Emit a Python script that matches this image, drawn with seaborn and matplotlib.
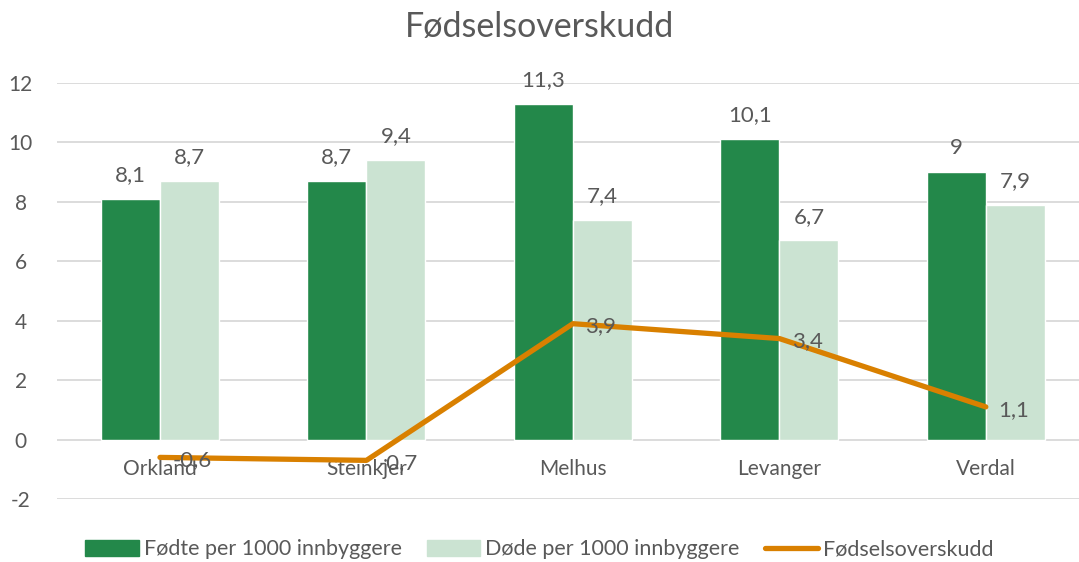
import numpy as np
import pandas as pd
import matplotlib
matplotlib.use("Agg")
import matplotlib.pyplot as plt
import seaborn as sns
from matplotlib.patches import Patch
from matplotlib.lines import Line2D

kommuner = ["Orkland", "Steinkjer", "Melhus", "Levanger", "Verdal"]
fodte = [8.1, 8.7, 11.3, 10.1, 9.0]
dode = [8.7, 9.4, 7.4, 6.7, 7.9]
overskudd = [-0.6, -0.7, 3.9, 3.4, 1.1]

serie_fodte = "Fødte per 1000 innbyggere"
serie_dode = "Døde per 1000 innbyggere"
serie_linje = "Fødselsoverskudd"

c_dark = "#23884A"
c_light = "#CBE3D2"
c_orange = "#D98000"
c_text = "#595959"
c_grid = "#D9D9D9"

sns.set_theme(style="white")
plt.rcParams["font.family"] = ["Lato", "DejaVu Sans"]
plt.rcParams["axes.unicode_minus"] = False

df = pd.DataFrame({
    "kommune": kommuner * 2,
    "verdi": fodte + dode,
    "serie": [serie_fodte] * 5 + [serie_dode] * 5,
})

def fmt(v):
    # norsk desimalkomma, heltall uten desimal
    if float(v).is_integer():
        return str(int(v))
    return f"{v:.1f}".replace(".", ",")

fig = plt.figure(figsize=(10.79, 5.62), dpi=100)
ax = fig.add_axes([0.0526, 0.1121, 0.9567, 0.7402])

sns.barplot(data=df, x="kommune", y="verdi", hue="serie",
            palette=[c_dark, c_light], width=0.572, gap=0,
            saturation=1, legend=False, ax=ax, zorder=2)
sns.lineplot(x=np.arange(len(kommuner)), y=overskudd, color=c_orange,
             linewidth=3.8, ax=ax, zorder=3, legend=False)

ax.set_ylim(-2, 12)
ax.set_xlim(-0.5, 4.5)
ax.set_yticks(range(-2, 13, 2))
ax.yaxis.grid(True, color=c_grid, linewidth=1.3, zorder=0)
ax.set_axisbelow(True)
for s in ax.spines.values():
    s.set_visible(False)
ax.set_xlabel("")
ax.set_ylabel("")
ax.tick_params(axis="both", length=0, labelsize=15, colors=c_text)
# x-etiketter rett under nullinjen
ax.tick_params(axis="x", pad=-29)
ax.tick_params(axis="y", pad=26)
for lab in ax.get_yticklabels():
    lab.set_horizontalalignment("center")
ax.set_xticks(range(len(kommuner)))
ax.set_xticklabels(kommuner)

for container in ax.containers:
    ax.bar_label(container, labels=[fmt(b.get_height()) for b in container],
                 padding=10, fontsize=16, color=c_text)

for i, v in enumerate(overskudd):
    ax.annotate(fmt(v), (i, v), xytext=(9, -2), textcoords="offset points",
                ha="left", va="center", fontsize=16, color=c_text, zorder=4)

fig.suptitle("Fødselsoverskudd", x=0.5, y=0.98, fontsize=24.5, color=c_text)

handles = [Patch(color=c_dark), Patch(color=c_light),
           Line2D([0], [0], color=c_orange, linewidth=3.8)]
fig.legend(handles, [serie_fodte, serie_dode, serie_linje], loc="lower center",
           bbox_to_anchor=(0.5, -0.03), ncol=3, frameon=False, fontsize=15.5,
           labelcolor=c_text, handlelength=2.5, handleheight=0.75,
           handletextpad=0.23, columnspacing=1.15)

fig.savefig("out.png", dpi=100)
